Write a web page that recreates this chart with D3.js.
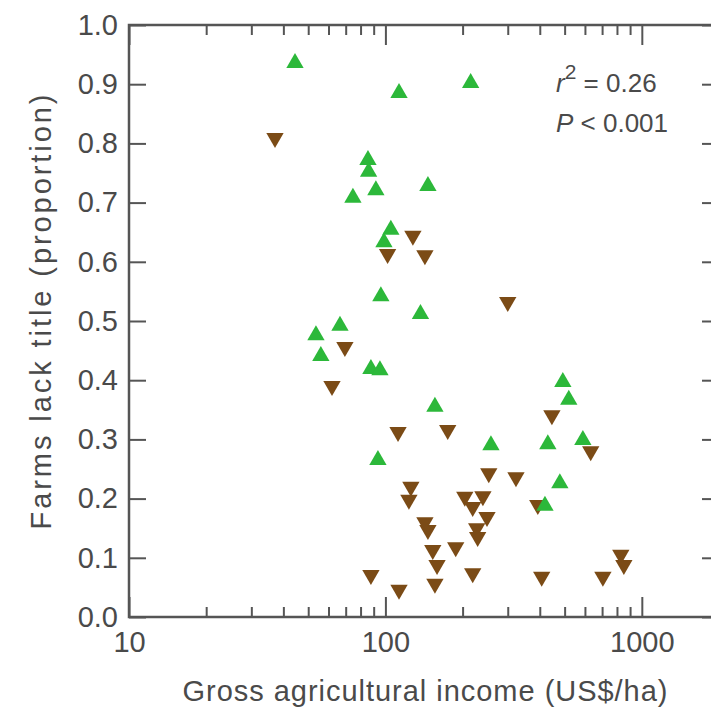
<!DOCTYPE html>
<html>
<head>
<meta charset="utf-8">
<script src="https://cdn.jsdelivr.net/npm/d3@7"></script>
<style>
  body { margin: 0; background: #fff; }
  svg text { font-family: "Liberation Sans", Arial, sans-serif; fill: #4a4a4a; }
</style>
</head>
<body>
<div id="vis-container"></div>
<script>
// green: up triangles, [income US$/ha, proportion]
let greenX = [44.4, 113, 215, 85.5, 86, 91.8, 74.7, 146.5, 105, 98.7, 96, 137, 53.6, 66.5, 56.0, 87.8, 95.2, 156, 258, 93.5, 492, 519, 430, 589, 479, 419];
let greenY = [0.936, 0.885, 0.902, 0.772, 0.752, 0.721, 0.708, 0.728, 0.654, 0.633, 0.542, 0.512, 0.476, 0.492, 0.441, 0.419, 0.417, 0.355, 0.29, 0.265, 0.397, 0.367, 0.292, 0.299, 0.226, 0.188];

// brown: down triangles
let brownX = [37.1, 128, 102, 142.6, 300, 69.5, 61.9, 446, 112, 175, 632, 253, 323, 125.7, 123.5, 204, 240, 219, 249, 227, 229, 142.6, 146.5, 153, 159, 188, 219, 156, 87.8, 113, 393, 407, 828, 851, 705];
let brownY = [0.809, 0.644, 0.613, 0.611, 0.532, 0.456, 0.39, 0.341, 0.3125, 0.316, 0.28, 0.243, 0.236, 0.22, 0.198, 0.203, 0.204, 0.186, 0.169, 0.15, 0.135, 0.16, 0.147, 0.113, 0.088, 0.118, 0.074, 0.056, 0.071, 0.046, 0.189, 0.068, 0.105, 0.088, 0.068];

let xMajor = [10, 100, 1000];
let xMinor = [20, 30, 40, 50, 60, 70, 80, 90, 200, 300, 400, 500, 600, 700, 800, 900];
let yTicks = [0, 0.1, 0.2, 0.3, 0.4, 0.5, 0.6, 0.7, 0.8, 0.9, 1.0];

let W = 711, H = 714;
let svg = d3.select("#vis-container").append("svg")
  .attr("width", W).attr("height", H);

let x = d3.scaleLog().domain([10, 2000]).range([129, 719]);
let y = d3.scaleLinear().domain([0, 1]).range([617, 25]);

let axisColor = "#555";

function styleAxis(g){
  g.selectAll("path.domain").remove();
  g.selectAll("line").attr("stroke", axisColor).attr("stroke-width", 2);
  g.selectAll("text").attr("font-size", "29px").attr("fill", "#4a4a4a")
    .style("font-family", "'Liberation Sans', Arial, sans-serif");
}

// frame
svg.append("rect")
  .attr("x", x(10)).attr("y", y(1))
  .attr("width", x(2000) - x(10)).attr("height", y(0) - y(1))
  .attr("fill", "none").attr("stroke", axisColor).attr("stroke-width", 2.5);

// left axis
svg.append("g").attr("transform", `translate(${x(10)},0)`)
  .call(d3.axisLeft(y).tickValues(yTicks).tickSize(-17).tickPadding(11).tickFormat(d3.format(".1f")))
  .call(styleAxis);

// right axis
svg.append("g").attr("transform", `translate(${x(2000)},0)`)
  .call(d3.axisRight(y).tickValues(yTicks).tickSize(-17).tickFormat(""))
  .call(styleAxis);

// bottom axis
svg.append("g").attr("transform", `translate(0,${y(0)})`)
  .call(d3.axisBottom(x).tickValues(xMajor).tickSize(-20).tickPadding(14).tickFormat(d3.format("d")))
  .call(styleAxis);
svg.append("g").attr("transform", `translate(0,${y(0)})`)
  .call(d3.axisBottom(x).tickValues(xMinor).tickSize(-10).tickFormat(""))
  .call(styleAxis);

// top axis
svg.append("g").attr("transform", `translate(0,${y(1)})`)
  .call(d3.axisTop(x).tickValues(xMajor).tickSize(-20).tickFormat(""))
  .call(styleAxis);
svg.append("g").attr("transform", `translate(0,${y(1)})`)
  .call(d3.axisTop(x).tickValues(xMinor).tickSize(-10).tickFormat(""))
  .call(styleAxis);

// axis titles
svg.append("text")
  .attr("x", 425).attr("y", 701)
  .attr("text-anchor", "middle").attr("font-size", "29px")
  .attr("textLength", 485).attr("lengthAdjust", "spacing")
  .text("Gross agricultural income (US$/ha)");

svg.append("text")
  .attr("transform", `translate(51,312) rotate(-90)`)
  .attr("text-anchor", "middle").attr("font-size", "29px")
  .attr("textLength", 435).attr("lengthAdjust", "spacing")
  .text("Farms lack title (proportion)");

// stats
let stat1 = svg.append("text").attr("x", 556).attr("y", 92).attr("font-size", "26px");
stat1.append("tspan").attr("font-style", "italic").text("r");
stat1.append("tspan").attr("dy", -13).attr("font-size", "21px").text("2");
stat1.append("tspan").attr("dy", 13).text(" = 0.26");

let stat2 = svg.append("text").attr("x", 556).attr("y", 132).attr("font-size", "26px");
stat2.append("tspan").attr("font-style", "italic").text("P");
stat2.append("tspan").text(" < 0.001");

// points
let tri = d3.symbol().type(d3.symbolTriangle).size(130);

let brown = brownX.map((v, i) => ({x: v, y: brownY[i]}));
let green = greenX.map((v, i) => ({x: v, y: greenY[i]}));

svg.append("g").selectAll("path")
  .data(brown)
  .enter().append("path")
  .attr("d", tri)
  .attr("transform", d => `translate(${x(d.x)},${y(d.y)}) rotate(180)`)
  .attr("fill", "#7b4b16");

svg.append("g").selectAll("path")
  .data(green)
  .enter().append("path")
  .attr("d", tri)
  .attr("transform", d => `translate(${x(d.x)},${y(d.y)})`)
  .attr("fill", "#2cb83a");
</script>
</body>
</html>
